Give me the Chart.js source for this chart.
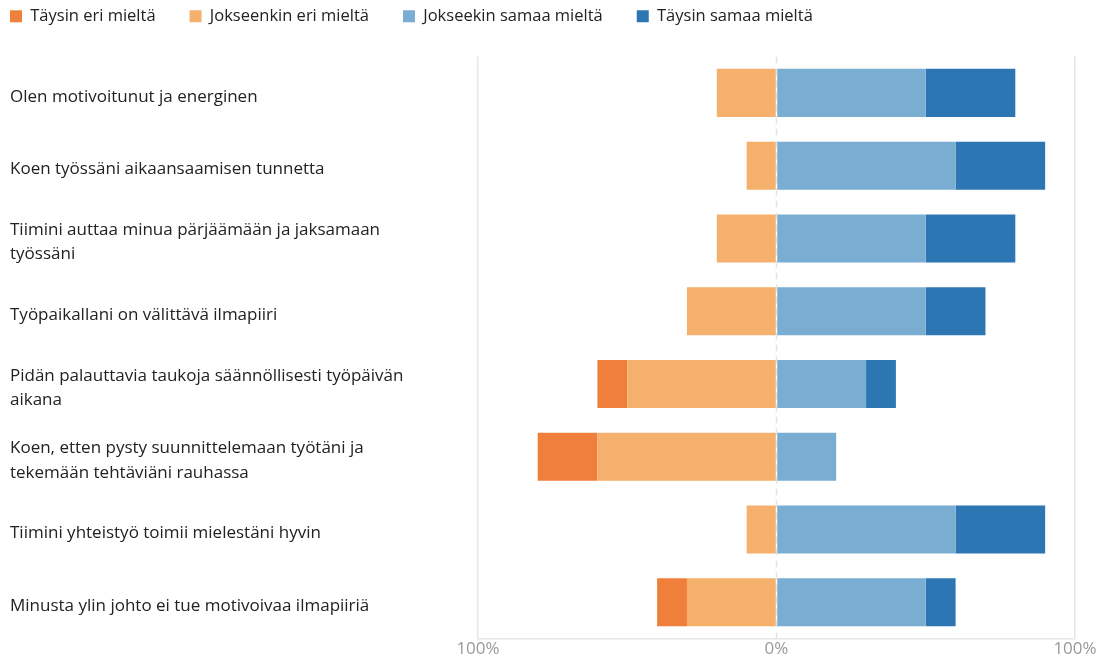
<!DOCTYPE html>
<html lang="fi">
<head>
    <meta charset="UTF-8">
    <title>Kysely</title>
    <style>
        html, body { margin: 0; padding: 0; background: #fff; }
        #wrap { width: 1112px; height: 659px; }
    </style>
</head>
<body>
    <div id="wrap">
        <canvas id="myChart" width="1112" height="659"></canvas>
    </div>

    <script src="https://cdn.jsdelivr.net/npm/chart.js"></script>
    <script>
    // Statements (multi-line ones are wrapped as in the survey report)
    var questions = [
        'Olen motivoitunut ja energinen',
        'Koen työssäni aikaansaamisen tunnetta',
        ['Tiimini auttaa minua pärjäämään ja jaksamaan', 'työssäni'],
        'Työpaikallani on välittävä ilmapiiri',
        ['Pidän palauttavia taukoja säännöllisesti työpäivän', 'aikana'],
        ['Koen, etten pysty suunnittelemaan työtäni ja', 'tekemään tehtäviäni rauhassa'],
        'Tiimini yhteistyö toimii mielestäni hyvin',
        'Minusta ylin johto ei tue motivoivaa ilmapiiriä'
    ];

    // Share of answers, percent
    var taysinEri      = [0, 0, 0, 0, 10, 20, 0, 10];
    var jokseenkinEri  = [20, 10, 20, 30, 50, 60, 10, 30];
    var jokseekinSamaa = [50, 60, 50, 50, 30, 20, 60, 50];
    var taysinSamaa    = [30, 30, 30, 20, 10, 0, 30, 10];

    var colors = {
        taysinEri: '#F07F3C',
        jokseenkinEri: '#F5B06D',
        jokseekinSamaa: '#7AADD2',
        taysinSamaa: '#2C77B3'
    };

    var neg = function (arr) { return arr.map(function (v) { return -v; }); };

    // negative side is stacked from zero outwards, so "Jokseenkin" goes first
    var dataSource = {
        labels: questions,
        datasets: [
            { label: 'Jokseenkin eri mieltä', data: neg(jokseenkinEri), backgroundColor: colors.jokseenkinEri },
            { label: 'Täysin eri mieltä', data: neg(taysinEri), backgroundColor: colors.taysinEri },
            { label: 'Jokseekin samaa mieltä', data: jokseekinSamaa, backgroundColor: colors.jokseekinSamaa },
            { label: 'Täysin samaa mieltä', data: taysinSamaa, backgroundColor: colors.taysinSamaa }
        ]
    };
    var legendRank = [1, 0, 2, 3];

    var LEGEND_PAD = 34;

    // dashed line at 0 %
    var zeroLine = {
        id: 'zeroLine',
        beforeDatasetsDraw: function (chart) {
            var x = chart.scales.x.getPixelForValue(0);
            var area = chart.chartArea;
            var ctx = chart.ctx;
            ctx.save();
            ctx.strokeStyle = '#e4e4e4';
            ctx.lineWidth = 1.5;
            ctx.setLineDash([7, 5]);
            ctx.beginPath();
            ctx.moveTo(x, area.top);
            ctx.lineTo(x, area.bottom);
            ctx.stroke();
            ctx.restore();
        }
    };

    // pull the legend up to the top-left corner
    var legendNudge = {
        id: 'legendNudge',
        afterLayout: function (chart) {
            chart.legend.left -= LEGEND_PAD;
            chart.legend.top -= 22;
        }
    };

    Chart.defaults.font.family = '"Open Sans", sans-serif';

    var ctx = document.getElementById('myChart').getContext('2d');
    var myChart = new Chart(ctx, {
        type: 'bar',
        data: dataSource,
        plugins: [zeroLine, legendNudge],
        options: {
            indexAxis: 'y',
            responsive: false,
            animation: false,
            barPercentage: 0.66,
            categoryPercentage: 1,
            layout: { padding: { left: 10, right: 37, top: -4, bottom: 0 } },
            scales: {
                x: {
                    stacked: true,
                    min: -100,
                    max: 100,
                    grid: {
                        color: function (c) { return c.tick && c.tick.value === 0 ? 'rgba(0,0,0,0)' : '#e6e6e6'; },
                        lineWidth: 1.5,
                        drawTicks: false
                    },
                    border: { display: true, color: '#e6e6e6', width: 1.5 },
                    ticks: {
                        stepSize: 100,
                        padding: 0,
                        color: '#999',
                        font: { size: 17 },
                        callback: function (v) { return Math.abs(v) + '%'; }
                    }
                },
                y: {
                    stacked: true,
                    grid: { display: false, drawTicks: false },
                    border: { display: false },
                    afterFit: function (scale) { scale.width = 468; },
                    ticks: {
                        crossAlign: 'far',
                        labelOffset: 4,
                        color: '#222',
                        font: { size: 17, lineHeight: 1.42 }
                    }
                }
            },
            plugins: {
                legend: {
                    position: 'top',
                    align: 'start',
                    labels: {
                        boxWidth: 12,
                        boxHeight: 12,
                        padding: LEGEND_PAD,
                        color: '#222',
                        font: { size: 16.5 },
                        sort: function (a, b) { return legendRank[a.datasetIndex] - legendRank[b.datasetIndex]; }
                    }
                },
                tooltip: { enabled: false }
            }
        }
    });
    </script>
</body>
</html>
